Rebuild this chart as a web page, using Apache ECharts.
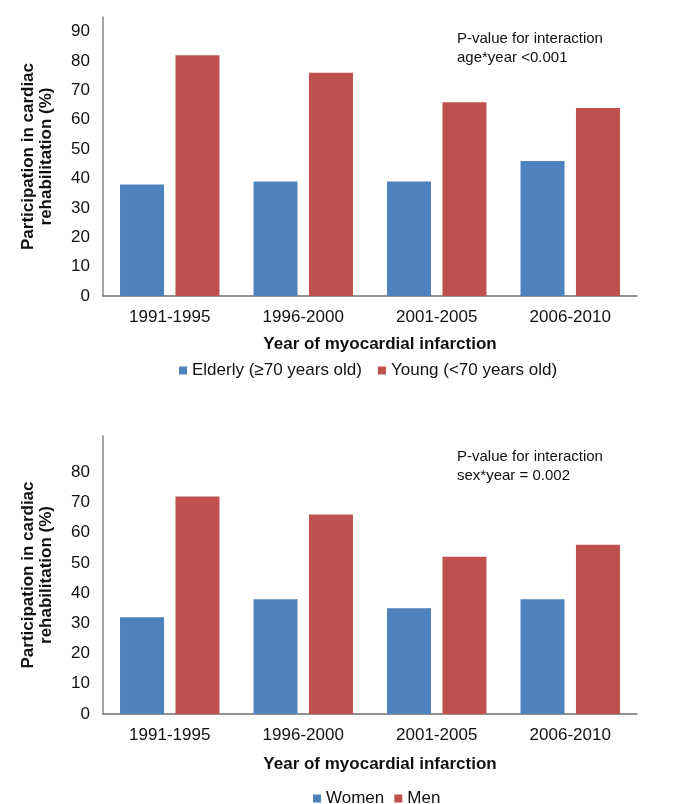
<!DOCTYPE html>
<html>
<head>
<meta charset="utf-8">
<script src="https://cdn.jsdelivr.net/npm/echarts@6/dist/echarts.min.js"></script>
<style>
html,body{margin:0;padding:0;background:#fff;}
#c{width:699px;height:804px;}
</style>
</head>
<body>
<div id="c"></div>
<script>
const categories = ['1991-1995', '1996-2000', '2001-2005', '2006-2010'];
const elderly = [38, 39, 39, 46];
const young = [82, 76, 66, 64];
const women = [32, 38, 35, 38];
const men = [72, 66, 52, 56];
const topTickLabels = [0, 10, 20, 30, 40, 50, 60, 70, 80, 90];
const bottomTickLabels = [0, 10, 20, 30, 40, 50, 60, 70, 80];

const FONT = 'Liberation Sans, Arial, sans-serif';
const BLUE = '#4F81BD';
const RED = '#C0504D';

const chart = echarts.init(document.getElementById('c'));

function yAxisCfg(gridIndex, max, ticks) {
  return {
    type: 'value', gridIndex: gridIndex, min: 0, max: max, interval: 10,
    splitLine: {show: false}, axisTick: {show: false},
    axisLine: {show: true, lineStyle: {color: '#868686', width: 1.5}},
    axisLabel: {
      fontFamily: FONT, fontSize: 17, color: '#111', margin: 13,
      showMaxLabel: false,
      formatter: function (v) { return ticks.indexOf(v) >= 0 ? String(v) : ''; }
    },
    name: 'Participation in cardiac\nrehabilitation (%)',
    nameLocation: 'middle', nameRotate: 90, nameGap: 48,
    nameTextStyle: {fontFamily: FONT, fontSize: 17, fontWeight: 'bold', color: '#111', lineHeight: 18}
  };
}
function xAxisCfg(gridIndex) {
  return {
    type: 'category', gridIndex: gridIndex, data: categories,
    axisTick: {show: false},
    axisLine: {lineStyle: {color: '#6e6e6e', width: 1.5}},
    axisLabel: {fontFamily: FONT, fontSize: 17, color: '#111', margin: 13}
  };
}

const titleStyle = {fontFamily: FONT, fontSize: 17, fontWeight: 'bold', color: '#111'};
const noteStyle = {fontFamily: FONT, fontSize: 15, fontWeight: 'normal', color: '#111', lineHeight: 19};
const legendText = {fontFamily: FONT, fontSize: 17, color: '#111'};

chart.setOption({
  animation: false,
  backgroundColor: '#fff',
  grid: [
    {left: 103, right: 62, top: 17, height: 279},
    {left: 103, right: 62, top: 436, height: 278}
  ],
  xAxis: [xAxisCfg(0), xAxisCfg(1)],
  yAxis: [yAxisCfg(0, 95, topTickLabels), yAxisCfg(1, 92, bottomTickLabels)],
  title: [
    {text: 'Year of myocardial infarction', left: 380, top: 336, textAlign: 'center', padding: 0, textStyle: titleStyle},
    {text: 'Year of myocardial infarction', left: 380, top: 756, textAlign: 'center', padding: 0, textStyle: titleStyle},
    {text: 'P-value for interaction\nage*year <0.001', left: 457, top: 29, padding: 0, textStyle: noteStyle},
    {text: 'P-value for interaction\nsex*year = 0.002', left: 457, top: 447, padding: 0, textStyle: noteStyle}
  ],
  legend: [
    {data: ['Elderly (≥70 years old)', 'Young (<70 years old)'], left: 174, top: 357,
     icon: 'rect', itemWidth: 8, itemHeight: 8, itemGap: 16, textStyle: legendText},
    {data: ['Women', 'Men'], left: 308, top: 785,
     icon: 'rect', itemWidth: 8, itemHeight: 8, itemGap: 10, textStyle: legendText}
  ],
  series: [
    {name: 'Elderly (≥70 years old)', type: 'bar', xAxisIndex: 0, yAxisIndex: 0, data: elderly,
     barWidth: 44, barGap: '26%', itemStyle: {color: BLUE}},
    {name: 'Young (<70 years old)', type: 'bar', xAxisIndex: 0, yAxisIndex: 0, data: young,
     barWidth: 44, barGap: '26%', itemStyle: {color: RED}},
    {name: 'Women', type: 'bar', xAxisIndex: 1, yAxisIndex: 1, data: women,
     barWidth: 44, barGap: '26%', itemStyle: {color: BLUE}},
    {name: 'Men', type: 'bar', xAxisIndex: 1, yAxisIndex: 1, data: men,
     barWidth: 44, barGap: '26%', itemStyle: {color: RED}}
  ]
});
</script>
</body>
</html>
